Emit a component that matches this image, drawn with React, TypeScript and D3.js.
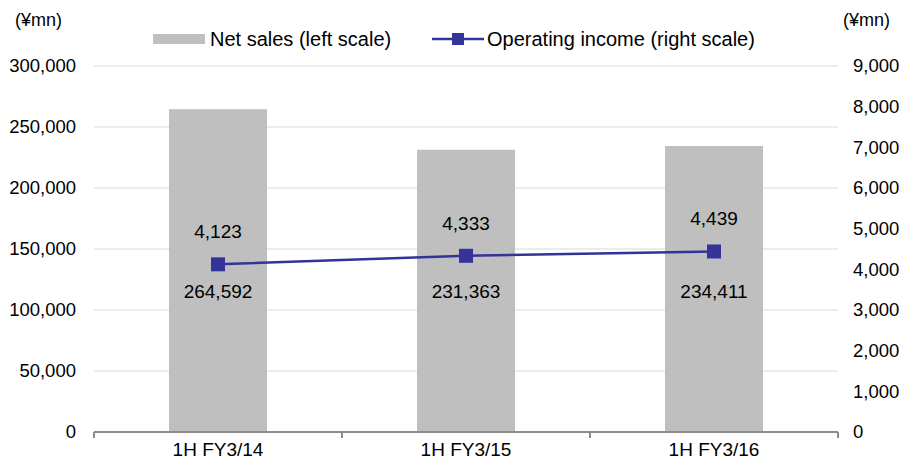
import React, { useEffect, useRef } from 'react';
import * as d3 from 'd3';

const categories = ['1H FY3/14', '1H FY3/15', '1H FY3/16'];
const netSales = [264592, 231363, 234411];
const operatingIncome = [4123, 4333, 4439];
const leftTicks = [0, 50000, 100000, 150000, 200000, 250000, 300000];
const rightTicks = [0, 1000, 2000, 3000, 4000, 5000, 6000, 7000, 8000, 9000];

const App = () => {
  const ref = useRef<SVGSVGElement | null>(null);

  useEffect(() => {
    const svg = d3.select(ref.current);
    svg.selectAll('*').remove();

    const width = 907;
    const height = 464;
    const margin = { top: 66, right: 69, bottom: 32, left: 94 };
    const font = '"Liberation Sans", Arial, sans-serif';
    const fmt = d3.format(',');

    const x = d3.scaleBand()
      .domain(categories)
      .range([margin.left, width - margin.right])
      .paddingInner(0)
      .paddingOuter(0);

    const yLeft = d3.scaleLinear().domain([0, 300000]).range([height - margin.bottom, margin.top]);
    const yRight = d3.scaleLinear().domain([0, 9000]).range([height - margin.bottom, margin.top]);

    const g = svg.append('g').attr('font-family', font);

    // Gridlines
    g.append('g').selectAll('line')
      .data(leftTicks.filter(d => d > 0)).enter()
      .append('line')
      .attr('x1', margin.left)
      .attr('x2', width - margin.right)
      .attr('y1', d => yLeft(d))
      .attr('y2', d => yLeft(d))
      .attr('stroke', '#d9d9d9')
      .attr('stroke-width', 1);

    // Bars
    const barW = 98;
    g.append('g').selectAll('rect')
      .data(netSales).enter()
      .append('rect')
      .attr('x', (d, i) => x(categories[i])! + x.bandwidth() / 2 - barW / 2)
      .attr('y', d => yLeft(d))
      .attr('width', barW)
      .attr('height', d => yLeft(0) - yLeft(d))
      .attr('fill', '#bfbfbf');

    // X axis
    const axisY = yLeft(0);
    g.append('line')
      .attr('x1', margin.left)
      .attr('x2', width - margin.right)
      .attr('y1', axisY)
      .attr('y2', axisY)
      .attr('stroke', '#8c8c8c')
      .attr('stroke-width', 2);

    const boundaries = [...categories.map(c => x(c)!), x(categories[categories.length - 1])! + x.bandwidth()];
    g.append('g').selectAll('line')
      .data(boundaries).enter()
      .append('line')
      .attr('x1', d => d)
      .attr('x2', d => d)
      .attr('y1', axisY)
      .attr('y2', axisY + 6)
      .attr('stroke', '#8c8c8c')
      .attr('stroke-width', 2);

    g.append('g').selectAll('text')
      .data(categories).enter()
      .append('text')
      .attr('x', d => x(d)! + x.bandwidth() / 2)
      .attr('y', height - 8)
      .attr('text-anchor', 'middle')
      .attr('font-size', 19)
      .attr('fill', '#000')
      .text(d => d);

    // Left axis labels
    g.append('g').selectAll('text')
      .data(leftTicks).enter()
      .append('text')
      .attr('x', 76)
      .attr('y', d => yLeft(d))
      .attr('dy', '0.35em')
      .attr('text-anchor', 'end')
      .attr('font-size', 18.5)
      .text(d => fmt(d));

    // Right axis labels
    g.append('g').selectAll('text')
      .data(rightTicks).enter()
      .append('text')
      .attr('x', 853)
      .attr('y', d => yRight(d))
      .attr('dy', '0.35em')
      .attr('text-anchor', 'start')
      .attr('font-size', 18.5)
      .text(d => fmt(d));

    // Units
    g.append('text').attr('x', 15).attr('y', 26).attr('font-size', 18).text('(¥mn)');
    g.append('text').attr('x', 843).attr('y', 26).attr('font-size', 18).text('(¥mn)');

    // Line
    const cx = (i: number) => x(categories[i])! + x.bandwidth() / 2;
    const line = d3.line<number>()
      .x((d, i) => cx(i))
      .y(d => yRight(d));

    g.append('path')
      .datum(operatingIncome)
      .attr('d', line)
      .attr('fill', 'none')
      .attr('stroke', '#333399')
      .attr('stroke-width', 2.5);

    const ms = 14;
    g.append('g').selectAll('rect')
      .data(operatingIncome).enter()
      .append('rect')
      .attr('x', (d, i) => cx(i) - ms / 2)
      .attr('y', d => yRight(d) - ms / 2)
      .attr('width', ms)
      .attr('height', ms)
      .attr('fill', '#333399');

    // Data labels
    g.append('g').selectAll('text')
      .data(operatingIncome).enter()
      .append('text')
      .attr('x', (d, i) => cx(i))
      .attr('y', d => yRight(d) - 26)
      .attr('text-anchor', 'middle')
      .attr('font-size', 19)
      .text(d => fmt(d));

    g.append('g').selectAll('text')
      .data(netSales).enter()
      .append('text')
      .attr('x', (d, i) => cx(i))
      .attr('y', yLeft(110000))
      .attr('text-anchor', 'middle')
      .attr('font-size', 19)
      .text(d => fmt(d));

    // Legend
    const legend = g.append('g');
    legend.append('rect')
      .attr('x', 153).attr('y', 34).attr('width', 52).attr('height', 10)
      .attr('fill', '#bfbfbf');
    legend.append('text')
      .attr('x', 210).attr('y', 46).attr('font-size', 20)
      .text('Net sales (left scale)');
    legend.append('line')
      .attr('x1', 432).attr('x2', 484).attr('y1', 39).attr('y2', 39)
      .attr('stroke', '#333399').attr('stroke-width', 2.5);
    legend.append('rect')
      .attr('x', 452).attr('y', 33).attr('width', 12).attr('height', 12)
      .attr('fill', '#333399');
    legend.append('text')
      .attr('x', 487).attr('y', 46).attr('font-size', 20)
      .text('Operating income (right scale)');
  }, []);

  return (
    <svg
      ref={ref}
      width={907}
      height={464}
      style={{ position: 'absolute', left: 0, top: 0, background: '#fff' }}
    />
  );
};

export default App;
